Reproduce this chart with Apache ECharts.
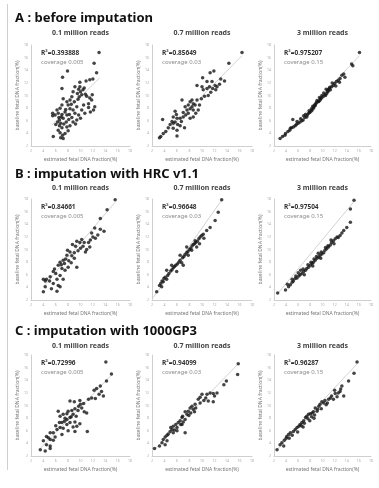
<!DOCTYPE html>
<html>
<head>
<meta charset="utf-8">
<script src="https://cdn.jsdelivr.net/npm/echarts@6/dist/echarts.min.js"></script>
<style>
  html, body { margin: 0; padding: 0; background: #fff; }
  #chart { width: 379px; height: 488px; }
</style>
</head>
<body>
<div id="chart"></div>
<script>
// section / panel labels
const rowTitles = ['A : before imputation', 'B : imputation with HRC v1.1', 'C : imputation with 1000GP3']
const colTitles = ['0.1 million reads', '0.7 million reads', '3 million reads']
const r2Labels = [
  ['R²=0.393888', 'R²=0.85649', 'R²=0.975207'],
  ['R²=0.84661', 'R²=0.96648', 'R²=0.97504'],
  ['R²=0.72996', 'R²=0.94099', 'R²=0.96287']
]
const coverageLabels = ['coverage 0.005', 'coverage 0.03', 'coverage 0.15']
const xName = 'estimated fetal DNA fraction(%)'
const yName = 'baseline fetal DNA fraction(%)'
const axisMin = 2
const axisMax = 18
const axisStep = 2

// [estimated, baseline]
const a1 = [[13.0,16.8],[12.2,15.1],[12.6,13.6],[7.9,13.9],[7.1,12.9],[7.0,11.1],[9.1,11.4],[9.9,11.4],[9.7,11.0],[10.0,10.6],[9.5,10.3],[10.2,10.1],[9.8,9.8],[10.9,12.3],[11.5,12.5],[12.0,12.6],[11.0,9.9],[11.5,9.6],[11.8,9.3],[11.3,8.7],[8.8,10.6],[8.6,9.8],[8.3,9.3],[7.8,9.0],[8.0,8.5],[7.2,9.5],[7.0,8.5],[6.7,8.0],[6.2,7.7],[5.9,6.9],[5.5,6.8],[6.4,7.2],[7.0,7.0],[7.5,7.4],[7.8,6.9],[7.2,6.4],[6.6,6.1],[6.3,5.8],[6.8,5.6],[6.6,5.2],[7.0,4.9],[6.4,4.5],[6.7,4.1],[7.1,3.7],[6.8,3.3],[5.6,3.5],[8.3,7.9],[8.8,7.7],[9.4,8.2],[9.1,7.2],[9.7,6.9],[10.2,7.7],[10.5,8.5],[10.7,7.2],[10.0,6.4],[9.4,6.1],[8.8,5.8],[8.3,5.2],[7.8,5.0],[8.0,4.4],[7.5,4.0],[11.3,8.1],[11.6,7.4],[12.1,7.7],[7.2,3.2],[8.5,8.6],[9.0,9.0],[9.6,9.4],[10.4,10.9],[10.6,11.2],[8.2,7.0],[7.6,7.8],[6.9,6.6],[6.5,6.5],[7.3,5.5],[8.6,6.5],[9.2,5.5],[10.8,10.2],[11.9,10.1],[12.3,8.2],[9.9,12.1],[6.0,5.4],[7.7,5.8],[8.1,6.2],[5.5,7.2]]
const a2 = [[16.4,16.8],[14.3,15.1],[13.0,12.6],[11.9,13.9],[11.3,13.6],[10.1,12.8],[10.8,12.2],[11.6,12.2],[12.1,11.6],[11.2,11.4],[10.8,11.1],[11.7,11.1],[12.4,11.4],[12.2,10.9],[11.4,10.5],[11.0,10.0],[10.0,11.4],[10.2,10.9],[9.2,11.6],[6.8,9.3],[8.1,9.0],[8.6,8.7],[8.9,8.5],[8.4,8.2],[8.1,7.9],[7.6,7.7],[8.6,7.7],[9.0,7.2],[7.8,7.2],[7.4,6.9],[7.0,6.6],[6.5,6.4],[8.1,6.4],[8.6,6.6],[9.4,7.7],[9.6,8.5],[7.8,8.5],[7.3,8.2],[8.4,9.3],[3.7,6.2],[5.7,7.5],[5.4,6.6],[6.0,6.4],[5.2,5.9],[5.7,5.8],[5.4,5.6],[4.9,5.4],[6.1,5.4],[6.5,5.2],[7.2,4.9],[4.6,4.9],[4.2,4.3],[5.4,4.8],[6.0,4.5],[6.0,3.6],[3.8,4.0],[3.4,3.5],[3.2,3.3],[9.9,9.5],[10.4,9.9],[9.2,9.3],[7.0,7.3],[6.7,5.9],[5.9,7.0],[12.8,11.8],[13.6,12.3]]
const a3 = [[3.0,3.2],[3.4,3.5],[3.8,3.7],[4.3,4.3],[4.6,4.5],[4.9,4.9],[5.2,5.0],[5.5,5.2],[5.7,5.4],[6.0,5.6],[5.1,6.2],[6.3,5.8],[6.6,6.0],[6.8,6.1],[7.1,6.5],[7.4,6.6],[7.5,6.9],[7.7,7.2],[7.9,7.3],[8.1,7.5],[8.3,7.7],[8.5,8.0],[8.6,8.2],[8.7,8.5],[8.9,8.7],[9.0,8.9],[9.3,9.0],[9.6,9.3],[9.7,9.5],[9.8,9.6],[10.1,9.8],[10.4,10.1],[10.7,10.3],[10.8,10.6],[10.9,10.9],[11.1,11.1],[11.2,11.3],[11.5,11.4],[11.8,11.6],[12.3,12.2],[12.6,12.4],[12.9,12.7],[13.7,12.9],[14.8,15.0],[16.1,16.8],[15.0,14.7],[7.8,7.6],[8.2,7.9],[8.4,8.3],[9.1,9.2],[9.4,9.1],[9.9,10.0],[10.2,10.4],[10.5,10.0],[11.0,10.7],[11.3,10.9],[12.0,11.9],[12.2,11.5],[7.2,7.0],[6.9,6.8],[6.4,6.3],[5.8,5.9],[4.7,4.8],[3.9,4.0],[13.2,13.2],[11.6,12.0],[10.6,11.0],[9.5,9.7],[8.8,8.4],[12.8,12.1],[13.5,13.4]]
const b1 = [[15.6,17.9],[14.3,16.3],[13.2,14.9],[12.3,13.4],[13.2,13.2],[13.8,12.9],[11.8,12.6],[9.9,11.1],[10.6,11.1],[11.3,11.1],[9.4,11.3],[8.7,10.8],[8.3,9.6],[7.8,9.1],[7.2,8.3],[6.7,8.0],[6.4,7.5],[7.0,7.0],[8.0,7.2],[9.4,7.2],[7.5,6.7],[5.6,6.5],[5.1,5.7],[4.5,5.3],[4.0,5.3],[4.3,5.0],[5.0,5.0],[6.2,5.3],[5.6,4.6],[6.4,4.3],[4.3,4.1],[5.3,3.8],[4.0,3.3],[6.2,3.4],[6.7,4.1],[6.7,5.9],[7.2,5.3],[10.0,10.2],[10.4,10.5],[11.0,10.0],[11.6,11.5],[12.4,11.8],[12.8,12.3],[9.0,9.5],[8.6,9.0],[9.6,9.8],[10.8,9.6],[11.5,10.4],[7.6,8.5],[8.1,8.2],[6.9,7.6],[7.4,7.8],[6.0,6.2],[5.8,6.9],[8.5,7.9],[9.0,8.6],[12.0,12.0],[7.9,9.9],[9.2,10.5],[10.2,11.6]]
const b2 = [[2.75,3.3],[3.2,4.3],[3.4,4.6],[3.6,5.0],[3.8,4.9],[3.9,5.4],[4.1,5.6],[4.35,5.3],[4.5,5.9],[4.7,6.2],[5.0,6.6],[5.2,6.8],[5.4,7.1],[5.6,7.3],[5.8,7.5],[6.05,7.7],[6.3,8.0],[6.5,8.3],[6.75,7.9],[6.9,8.7],[7.1,8.9],[7.3,9.2],[7.55,9.5],[7.75,9.7],[8.0,10.0],[8.2,10.2],[8.4,10.55],[8.6,10.8],[8.8,10.9],[9.0,11.1],[9.25,11.3],[9.5,11.7],[9.7,12.0],[9.95,12.2],[10.2,12.4],[10.75,13.0],[11.3,13.5],[12.1,14.6],[12.6,15.9],[13.15,17.9],[4.35,6.7],[5.15,7.5],[6.5,9.1],[7.55,10.4],[8.35,9.9],[9.15,10.4],[9.6,10.9],[5.95,6.5],[7.0,7.5],[7.8,9.1],[8.9,11.4],[10.3,11.8],[3.55,4.1]]
const b3 = [[2.6,3.1],[3.9,3.6],[4.4,4.1],[4.7,4.4],[5.0,4.8],[5.2,5.0],[5.5,5.4],[5.8,5.5],[6.1,5.8],[6.3,6.0],[6.6,6.2],[6.9,6.5],[7.2,6.7],[7.4,7.0],[7.7,7.2],[8.0,7.5],[8.3,7.8],[8.5,8.0],[8.8,8.3],[9.1,8.6],[9.4,8.8],[9.6,9.1],[9.9,9.3],[10.2,9.5],[10.4,9.9],[10.7,10.1],[11.3,10.7],[11.5,11.1],[11.8,11.4],[12.1,11.7],[12.4,12.0],[12.9,12.2],[13.5,13.0],[14.0,13.5],[14.6,14.3],[14.6,16.4],[15.2,17.8],[5.0,5.3],[6.0,6.3],[6.8,6.9],[7.6,7.6],[8.1,8.0],[8.6,8.5],[9.0,8.9],[9.3,9.4],[9.8,9.6],[10.5,10.3],[11.0,10.4],[11.9,10.9],[12.6,11.9],[7.0,6.0],[8.4,7.4],[9.7,8.6],[10.9,10.6],[6.4,6.7],[5.6,5.8],[4.2,4.5],[13.2,12.6],[11.4,11.5]]
const c1 = [[14.1,16.9],[15.0,15.0],[14.2,13.9],[13.2,13.1],[12.6,12.7],[12.2,12.4],[13.4,12.2],[13.0,11.8],[13.7,11.5],[11.3,11.0],[9.9,10.8],[9.0,10.6],[10.5,10.3],[8.3,10.7],[9.7,9.9],[10.2,9.6],[9.1,9.5],[8.6,9.2],[8.0,9.1],[7.8,8.7],[7.2,8.6],[6.7,8.3],[8.8,8.6],[11.0,8.8],[8.3,8.1],[7.8,7.8],[7.4,7.5],[7.0,7.3],[6.6,7.3],[7.8,7.0],[8.3,7.3],[9.1,7.4],[9.9,7.1],[9.4,6.7],[8.8,6.6],[6.4,9.1],[6.7,6.5],[6.2,6.2],[5.6,5.7],[5.1,5.7],[4.5,5.1],[4.8,4.9],[5.1,4.6],[5.6,4.5],[5.9,5.0],[7.0,5.4],[9.1,5.9],[11.1,5.9],[4.0,4.4],[4.5,3.8],[5.1,3.6],[3.5,3.0],[4.3,2.8],[5.1,3.2],[9.6,9.2],[10.0,10.2],[8.5,8.2],[7.5,8.0],[9.3,8.3],[10.6,9.0],[11.8,11.2],[12.4,11.1],[6.0,6.8],[7.2,6.4],[8.0,6.0]]
const c2 = [[15.8,16.6],[15.7,14.9],[13.9,13.9],[13.5,13.3],[12.4,12.0],[11.8,11.9],[11.3,12.0],[10.8,11.8],[10.0,11.8],[9.7,11.3],[9.4,11.0],[10.3,10.8],[11.0,10.7],[11.8,10.6],[8.9,10.2],[8.4,9.9],[8.1,9.6],[8.6,9.4],[7.8,9.1],[7.3,9.0],[7.6,8.6],[6.9,8.3],[6.8,8.1],[7.3,7.8],[6.5,7.6],[6.2,7.3],[5.8,7.0],[5.4,6.7],[6.0,6.5],[5.2,6.2],[4.9,5.9],[5.4,5.7],[4.6,5.5],[4.4,5.3],[4.1,5.0],[3.8,4.6],[4.4,4.4],[3.6,4.1],[4.1,3.8],[3.2,3.6],[2.4,3.2],[7.3,5.7],[6.8,7.0],[9.0,9.6],[9.7,10.4],[8.2,8.8],[7.0,7.4],[6.6,7.0],[5.6,6.1],[10.6,11.2],[8.8,9.0],[7.9,8.4],[12.0,11.5],[6.0,6.0],[5.0,6.5]]
const c3 = [[15.7,16.9],[15.2,15.1],[14.3,13.9],[13.2,13.1],[12.9,12.2],[12.6,12.0],[12.1,11.9],[13.5,11.5],[11.5,11.5],[11.3,11.2],[11.0,11.0],[10.4,10.8],[10.2,10.4],[9.6,10.2],[9.4,9.9],[8.8,9.6],[9.1,9.1],[8.5,9.0],[8.3,8.8],[8.0,8.7],[7.7,8.6],[7.4,8.3],[7.2,8.1],[6.9,7.6],[6.6,7.3],[6.3,7.0],[6.1,6.7],[5.8,6.5],[5.5,6.2],[5.2,5.9],[4.7,5.7],[4.4,5.4],[4.1,5.1],[4.0,4.8],[3.7,4.5],[3.3,4.1],[3.0,3.8],[2.5,3.0],[6.5,6.8],[7.0,7.2],[7.6,7.9],[8.2,8.2],[8.7,8.5],[9.2,9.4],[9.8,9.5],[10.6,10.1],[11.8,11.0],[12.4,11.4],[5.0,5.3],[5.9,5.8],[6.8,6.6],[7.9,7.6],[8.6,8.0],[9.9,10.6],[10.8,10.4],[4.5,4.8],[3.6,3.6],[13.0,12.6],[12.0,12.4]]

// excel trend lines, start and end point
const trendA1 = [[5.4, 5.3], [13.1, 12.8]]
const trendA2 = [[3.2, 3.1], [16.4, 16.3]]
const trendA3 = [[3.0, 3.0], [16.1, 16.3]]
const trendB1 = [[4.0, 4.1], [15.6, 17.5]]
const trendB2 = [[2.2, 2.4], [13.2, 17.9]]
const trendB3 = [[2.6, 3.0], [15.2, 17.6]]
const trendC1 = [[3.5, 3.2], [15.0, 14.8]]
const trendC2 = [[2.4, 3.0], [15.8, 16.6]]
const trendC3 = [[2.5, 3.0], [15.7, 16.6]]

const panels = [[a1, a2, a3], [b1, b2, b3], [c1, c2, c3]]
const trends = [[trendA1, trendA2, trendA3], [trendB1, trendB2, trendB3], [trendC1, trendC2, trendC3]]

// layout
const rowTops = [45, 199, 355]
const rowTitleY = [18, 174, 331]
const colTitleY = [33, 188, 346]
const colLefts = [31, 152, 274]
const colWidths = [99, 100, 97]
const plotH = 101
const font = '"Noto Sans", "Open Sans", sans-serif'

const chart = echarts.init(document.getElementById('chart'), null, { renderer: 'canvas' })

const grid = []
const xAxis = []
const yAxis = []
const series = []
const graphic = [{
  type: 'line',
  shape: { x1: 7.5, y1: 4, x2: 7.5, y2: 470 },
  style: { stroke: '#cfcfcf', lineWidth: 1 }
}]

const axisBase = {
  type: 'value',
  min: axisMin,
  max: axisMax,
  interval: axisStep,
  nameLocation: 'middle',
  nameTextStyle: { fontSize: 5, color: '#777', fontFamily: font },
  splitLine: { show: false },
  axisTick: { show: false },
  axisLine: { show: true, lineStyle: { color: '#cfcfcf', width: 1 } },
  axisLabel: { fontSize: 3.5, color: '#aaa', margin: 3, fontFamily: font }
}

for (let r = 0; r < 3; r++) {
  graphic.push({
    type: 'text',
    x: 15,
    y: rowTitleY[r],
    style: { text: rowTitles[r], font: 'bold 13px ' + font, fill: '#111', verticalAlign: 'middle' }
  })
  for (let c = 0; c < 3; c++) {
    const i = r * 3 + c
    grid.push({ left: colLefts[c], top: rowTops[r], width: colWidths[c], height: plotH })
    xAxis.push(Object.assign({}, axisBase, { gridIndex: i, name: xName, nameGap: 11 }))
    yAxis.push(Object.assign({}, axisBase, { gridIndex: i, name: yName, nameGap: 8 }))
    series.push({
      type: 'scatter',
      xAxisIndex: i,
      yAxisIndex: i,
      data: panels[r][c],
      symbol: 'circle',
      symbolSize: 3.5,
      itemStyle: { color: '#151515' },
      silent: true,
      z: 3
    })
    series.push({
      type: 'line',
      xAxisIndex: i,
      yAxisIndex: i,
      data: trends[r][c],
      symbol: 'none',
      lineStyle: { color: '#c6c6c6', width: 0.8 },
      silent: true,
      z: 2
    })
    graphic.push({
      type: 'text',
      x: colLefts[c] + colWidths[c] / 2,
      y: colTitleY[r],
      style: { text: colTitles[c], font: 'bold 7px ' + font, fill: '#444', align: 'center', verticalAlign: 'middle' }
    })
    graphic.push({
      type: 'text',
      x: colLefts[c] + 10,
      y: rowTops[r] + 8.5,
      style: { text: r2Labels[r][c], font: 'bold 6.5px ' + font, fill: '#333', verticalAlign: 'middle' }
    })
    graphic.push({
      type: 'text',
      x: colLefts[c] + 10,
      y: rowTops[r] + 17,
      style: { text: coverageLabels[c], font: '6px ' + font, fill: '#8a8a8a', verticalAlign: 'middle' }
    })
  }
}

chart.setOption({
  animation: false,
  backgroundColor: '#fff',
  grid: grid,
  xAxis: xAxis,
  yAxis: yAxis,
  series: series,
  graphic: graphic
})
</script>
</body>
</html>
